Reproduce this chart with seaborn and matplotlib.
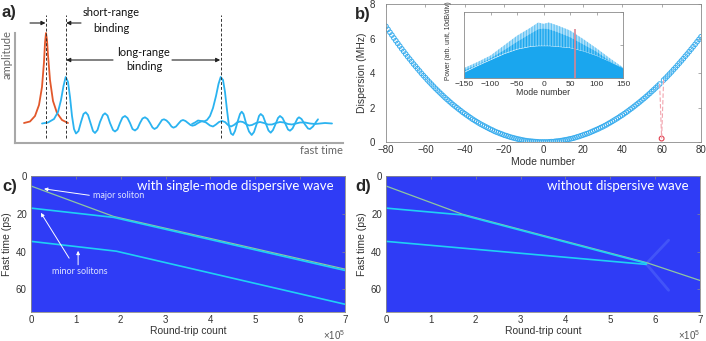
import matplotlib
matplotlib.use("Agg")
import matplotlib.pyplot as plt
import seaborn as sns
import pandas as pd

# ------------------------------------------------------------------ data
# panel a (schematic): x position, amplitude
a_orange_x = [24, 30, 35, 39, 42, 44, 45, 46, 47, 48, 50, 53, 57, 62, 68]
a_orange_y = [20, 21.5, 27, 38, 56, 81, 100, 110, 103, 88, 63, 42, 30, 23, 20]

a_blue1_x = [42, 48, 54, 58, 61, 63.5, 65.7, 68, 70, 72, 74, 76, 78.5, 81, 83.5, 85.7, 88, 90.5,
             93, 95, 97.5, 100, 103, 105, 107.5, 110, 113, 115, 117.5, 120, 122.5, 125, 127.5,
             130, 132.5, 135, 137.5, 140, 142.5, 145, 147.5, 150, 152.5, 154.5, 157, 160, 162,
             164, 166.5, 169, 171.5, 173.5, 176, 179, 181, 183, 185.5, 188, 190.5, 192.5, 195,
             198, 201, 203, 206, 210, 213, 216, 219, 222, 225, 228, 231, 234, 237, 240, 243,
             246, 249, 252, 256, 260, 264, 268, 272, 276, 280, 284, 288, 292, 296, 300, 305,
             310, 315, 320, 325, 332]
a_blue1_y = [19.5, 20.5, 24, 31, 43, 57, 66, 61, 46, 27, 14, 9.5, 12, 21, 29, 30.7, 28, 20,
             12, 10, 13, 21, 28, 29.7, 27.5, 20, 13, 11.5, 13.5, 20, 25.5, 27, 25,
             20, 14, 12.5, 14.5, 20, 24.5, 25.7, 24, 20, 15.5, 14, 15.5, 20, 23,
             23.7, 22.5, 20, 16.5, 15.3, 16.5, 20, 22.2, 23, 22, 20, 18, 17.3, 18,
             20, 21.5, 21.7, 20.5, 17.5, 16.5, 18.5, 21, 22, 21, 18, 16.5, 18, 20.5, 21.5, 21,
             19, 17.5, 18, 20, 21, 20, 18.5, 18.5, 20, 21, 20.5, 19, 18.5, 19.5, 20.5, 20.5,
             19.5, 19, 19.5, 20, 19.5]

a_blue2_x = [192, 195, 198, 201, 204, 207, 210, 213, 216, 218.5, 220.7, 223, 225, 227, 229, 231,
             233, 235, 237.5, 240, 241.7, 243.5, 246, 249, 251.7, 254, 257, 259, 260.7, 263,
             266, 268.5, 270.7, 273, 276, 278, 280, 282.5, 285.5, 288, 290, 292.5, 295.5,
             297.5, 299, 301.5, 305, 308, 310, 313, 316, 318]
a_blue2_y = [19, 20.5, 22.5, 22, 21.5, 23, 27, 35, 47, 59, 66, 63, 51, 33, 17, 9.5,
             8, 12, 21, 29, 31.3, 29, 20, 11.5, 8, 11, 20, 27, 29, 27,
             19, 12.5, 10.3, 13, 20, 25, 27, 25, 19, 13.5, 12.3, 14.5, 20.5,
             24.5, 25.7, 24, 18.5, 14.5, 14, 16.5, 21, 23.7]

# panel b: dispersion per mode (mode 60 shifted)
disp_modes = list(range(-80, 81))
disp_mhz = [6.70, 6.53, 6.36, 6.20, 6.03, 5.87, 5.71, 5.56, 5.40, 5.25, 5.10, 4.95, 4.81, 4.67, 4.52, 4.39, 4.25, 4.12, 3.98, 3.85,
            3.73, 3.60, 3.48, 3.36, 3.24, 3.12, 3.01, 2.90, 2.79, 2.68, 2.57, 2.47, 2.37, 2.27, 2.17, 2.08, 1.99, 1.90, 1.81, 1.72,
            1.64, 1.56, 1.48, 1.40, 1.32, 1.25, 1.18, 1.11, 1.04, 0.98, 0.92, 0.86, 0.80, 0.74, 0.69, 0.63, 0.58, 0.54, 0.49, 0.45,
            0.40, 0.37, 0.33, 0.29, 0.26, 0.23, 0.20, 0.17, 0.15, 0.12, 0.10, 0.08, 0.06, 0.05, 0.04, 0.03, 0.02, 0.01, 0.00, 0.00,
            0.00, 0.00, 0.00, 0.01, 0.02, 0.02, 0.04, 0.05, 0.06, 0.08, 0.10, 0.12, 0.14, 0.17, 0.19, 0.22, 0.25, 0.29, 0.32, 0.36,
            0.40, 0.44, 0.48, 0.52, 0.57, 0.62, 0.67, 0.72, 0.77, 0.83, 0.88, 0.94, 1.00, 1.07, 1.13, 1.20, 1.27, 1.34, 1.41, 1.49,
            1.56, 1.64, 1.72, 1.80, 1.89, 1.97, 2.06, 2.15, 2.24, 2.33, 2.43, 2.52, 2.62, 2.72, 2.82, 2.93, 3.03, 3.14, 3.25, 3.36,
            0.20, 3.59, 3.70, 3.82, 3.94, 4.06, 4.19, 4.31, 4.44, 4.57, 4.70, 4.83, 4.97, 5.10, 5.24, 5.38, 5.52, 5.66, 5.81, 5.95, 6.10]
shifted_mode = 60

# panel b inset: comb envelope (relative power, 10 dB/div)
inset_modes = [-150, -125, -100, -75, -50, -25, -10, 0, 10, 25, 50, 75, 100, 125, 150]
inset_top   = [0.15, 0.24, 0.34, 0.49, 0.64, 0.76, 0.84, 0.82, 0.84, 0.80, 0.72, 0.59, 0.45, 0.30, 0.16]
inset_mid   = [0.12, 0.20, 0.30, 0.42, 0.55, 0.67, 0.74, 0.75, 0.74, 0.70, 0.62, 0.51, 0.40, 0.26, 0.14]
inset_floor = [0.09, 0.19, 0.28, 0.37, 0.44, 0.48, 0.49, 0.49, 0.49, 0.48, 0.46, 0.41, 0.34, 0.25, 0.15]
inset_dw_height = 0.75

# panel c: soliton trajectories (round trips, fast time ps)
c_major_x = [0, 1.84e5, 7e5];  c_major_y = [5.3, 21.4, 49.3]
c_minor1_x = [0, 1.84e5, 7e5]; c_minor1_y = [17.0, 21.9, 50.0]
c_minor2_x = [0, 1.9e5, 7e5];  c_minor2_y = [34.6, 39.8, 67.9]

# panel d
d_major_x = [0, 1.7e5, 5.8e5, 7e5];  d_major_y = [5.3, 20.2, 45.8, 55.3]
d_minor1_x = [0, 1.7e5, 5.8e5];      d_minor1_y = [17.0, 20.6, 46.2]
d_minor2_x = [0, 5.8e5];             d_minor2_y = [34.6, 46.8]
d_rad_up_x = [5.8e5, 6.3e5];         d_rad_up_y = [46.5, 34.0]
d_rad_dn_x = [5.8e5, 6.3e5];         d_rad_dn_y = [46.5, 60.5]

# ------------------------------------------------------------------ style
sns.set_theme(style="white")
plt.rcParams.update({
    "font.family": ["Liberation Sans", "DejaVu Sans"],
    "mathtext.default": "regular",
    "axes.linewidth": 0.6,
    "hatch.linewidth": 0.9,
})
GILL = ["Lato", "DejaVu Sans"]
BLUE = "#2ab3f0"
ORANGE = "#e2582b"
IMG_BG = "#2f3cf6"
CYAN = "#1fd0f5"
MAJOR = "#8fc6a0"
BOX = "#8a8a8a"
TXT = "#333333"

W, H = 706, 341
fig = plt.figure(figsize=(W / 100, H / 100), dpi=100)


def px_axes(x0, y0, x1, y1):
    return fig.add_axes([x0 / W, 1 - y1 / H, (x1 - x0) / W, (y1 - y0) / H])


def matlab_box(ax, fs=6.5, ypad=2):
    for s in ax.spines.values():
        s.set_visible(True)
        s.set_color(BOX)
        s.set_linewidth(0.6)
    ax.tick_params(direction="in", top=True, right=True, length=2.5, width=0.5,
                   color=BOX, labelsize=fs, labelcolor=TXT, pad=2)
    ax.tick_params(axis="y", pad=ypad)


# ------------------------------------------------------------------ panel a
axa = px_axes(15, 0, 345, 143)
axa.set_xlim(15, 345)
axa.set_ylim(0, 143)
axa.patch.set_alpha(0)
for s in ["top", "right"]:
    axa.spines[s].set_visible(False)
for s in ["left", "bottom"]:
    axa.spines[s].set_color("#a8a8a8")
    axa.spines[s].set_linewidth(1.5)
axa.spines["left"].set_bounds(0, 110)
axa.spines["bottom"].set_bounds(15, 343)
axa.set_xticks([])
axa.set_yticks([])

sns.lineplot(x=a_orange_x, y=a_orange_y, ax=axa, color=ORANGE, lw=1.3, estimator=None, sort=False)
sns.lineplot(x=a_blue1_x, y=a_blue1_y, ax=axa, color=BLUE, lw=1.3, estimator=None, sort=False)
sns.lineplot(x=a_blue2_x, y=a_blue2_y, ax=axa, color=BLUE, lw=1.3, estimator=None, sort=False)

p0 = a_orange_x[a_orange_y.index(max(a_orange_y))]
p1 = a_blue1_x[a_blue1_y.index(max(a_blue1_y))]
p2 = a_blue2_x[a_blue2_y.index(max(a_blue2_y))]
axa.vlines([p0, p1, p2], 5, 128, colors="#333333", linestyles=(0, (3, 2)), lw=0.7)

arr = dict(arrowstyle="-|>", color="#222222", lw=0.8, mutation_scale=6, shrinkA=0, shrinkB=0)
axa.annotate("", xy=(p0 - 0.5, 120), xytext=(30, 120), arrowprops=arr)
axa.annotate("", xy=(p1 + 0.5, 120), xytext=(81, 120), arrowprops=arr)
axa.annotate("", xy=(p1 + 0.5, 83), xytext=(113, 83), arrowprops=arr)
axa.annotate("", xy=(p2 - 0.5, 83), xytext=(172, 83), arrowprops=arr)
axa.text(111, 130, "short-range", ha="center", va="center", fontsize=8, family=GILL, color="#111")
axa.text(111, 115, "binding", ha="center", va="center", fontsize=8, family=GILL, color="#111")
axa.text(144, 91, "long-range", ha="center", va="center", fontsize=8, family=GILL, color="#111")
axa.text(144, 76, "binding", ha="center", va="center", fontsize=8, family=GILL, color="#111")
axa.text(343, -7, "fast time", ha="right", va="center", fontsize=8, family=GILL, color="#666")
axa.text(7, 88, "amplitude", ha="center", va="center", rotation=90, fontsize=8, family=GILL,
         color="#666")

fig.text(2 / W, 1 - 12 / H, "a)", fontsize=12, fontweight="bold", va="center", ha="left")
fig.text(355 / W, 1 - 14 / H, "b)", fontsize=12, fontweight="bold", va="center", ha="left")
fig.text(2 / W, 1 - 187 / H, "c)", fontsize=12, fontweight="bold", va="center", ha="left")
fig.text(355 / W, 1 - 187 / H, "d)", fontsize=12, fontweight="bold", va="center", ha="left")

# ------------------------------------------------------------------ panel b
axb = px_axes(386, 4, 701, 142)
dfb = pd.DataFrame({"mode": disp_modes, "disp": disp_mhz})
norm = dfb[dfb["mode"] != shifted_mode]
shift = dfb[dfb["mode"] == shifted_mode]
sns.scatterplot(data=norm, x="mode", y="disp", ax=axb, marker="o", s=11,
                facecolors="none", edgecolor="#39adee", linewidth=0.7, legend=False)
sv = float(shift["disp"].iloc[0])
for m in (shifted_mode - 1, shifted_mode + 1):
    v = float(dfb.loc[dfb["mode"] == m, "disp"].iloc[0])
    axb.plot([m, shifted_mode], [v, sv], ls=(0, (4, 2)), color="#f2a4ae", lw=0.8)
sns.scatterplot(data=shift, x="mode", y="disp", ax=axb, marker="o", s=12,
                facecolors="none", edgecolor="#e0404f", linewidth=0.8, legend=False)
axb.set_xlim(-80, 80)
axb.set_ylim(0, 8)
axb.set_xticks(range(-80, 81, 20))
axb.set_yticks(range(0, 9, 2))
axb.set_xlabel("Mode number", fontsize=7.5, color=TXT, labelpad=1.5)
axb.set_ylabel("Dispersion (MHz)", fontsize=7.5, color=TXT, labelpad=2)
matlab_box(axb, 7, ypad=8)

# inset
axi = px_axes(464, 12, 623, 78)
axi.set_facecolor("white")
axi.fill_between(inset_modes, inset_mid, inset_top, facecolor="#b5e2fa", edgecolor="#66c4f4",
                 hatch="||||||", linewidth=0)
axi.fill_between(inset_modes, inset_floor, inset_mid, facecolor="#6cc7f5", edgecolor="#1aa6ee",
                 hatch="||||||", linewidth=0)
axi.fill_between(inset_modes, 0, inset_floor, facecolor="#1aa6ee", linewidth=0)
axi.vlines([shifted_mode], 0, inset_dw_height, colors="#d98491", lw=1.3, alpha=0.9)
axi.set_xlim(-150, 150)
axi.set_ylim(0, 1)
axi.set_xticks(range(-150, 151, 50))
axi.set_yticks([0, 0.5, 1])
axi.set_yticklabels([])
axi.set_xlabel("Mode number", fontsize=6.3, color=TXT, labelpad=0)
axi.set_ylabel("Power (arb. unit, 10dB/div)", fontsize=4.8, color=TXT, labelpad=4)
axi.yaxis.set_label_coords(-0.075, 0.56)
matlab_box(axi, 6)

# ------------------------------------------------------------------ panels c, d
def evo_axes(ax, title):
    ax.set_facecolor(IMG_BG)
    ax.set_xlim(0, 7e5)
    ax.set_ylim(72, 0)
    ax.set_xticks([i * 1e5 for i in range(8)])
    ax.set_xticklabels([str(i) for i in range(8)])
    ax.set_yticks([0, 20, 40, 60])
    ax.set_xlabel("Round-trip count", fontsize=7.5, color=TXT, labelpad=1)
    ax.set_ylabel("Fast time (ps)", fontsize=7.5, color=TXT, labelpad=3)
    matlab_box(ax, 7, ypad=3)
    ax.text(0.965, 0.925, title, transform=ax.transAxes, ha="right", va="center",
            fontsize=9.5, family=GILL, color="white")
    ax.text(1.0, -0.17, "×10$^5$", transform=ax.transAxes, ha="right", va="center",
            fontsize=7, color="#555")


axc = px_axes(31, 176, 345, 312)
sns.lineplot(x=c_major_x, y=c_major_y, ax=axc, color=MAJOR, lw=0.9, estimator=None, sort=False)
sns.lineplot(x=c_minor1_x, y=c_minor1_y, ax=axc, color=CYAN, lw=1.2, estimator=None, sort=False)
sns.lineplot(x=c_minor2_x, y=c_minor2_y, ax=axc, color=CYAN, lw=1.2, estimator=None, sort=False)
evo_axes(axc, "with single-mode dispersive wave")
note = "#dfe4ff"
awh = dict(arrowstyle="-|>", color="white", lw=0.7, mutation_scale=5, shrinkA=0, shrinkB=0)
axc.annotate("", xy=(0.29e5, 6.8), xytext=(1.3e5, 10.2), arrowprops=awh)
axc.text(1.38e5, 10.5, "major soliton", fontsize=6.5, family=GILL, color=note, va="center")
axc.annotate("", xy=(0.22e5, 19.5), xytext=(0.85e5, 43.5), arrowprops=awh)
axc.annotate("", xy=(1.05e5, 39.6), xytext=(1.05e5, 47.0), arrowprops=awh)
axc.text(0.47e5, 50.5, "minor solitons", fontsize=6.5, family=GILL, color=note, va="center")

axd = px_axes(386, 176, 700, 312)
sns.lineplot(x=d_rad_up_x, y=d_rad_up_y, ax=axd, color="#6f8cff", lw=2.0, alpha=0.3, estimator=None, sort=False)
sns.lineplot(x=d_rad_dn_x, y=d_rad_dn_y, ax=axd, color="#6f8cff", lw=2.0, alpha=0.3, estimator=None, sort=False)
sns.lineplot(x=d_major_x, y=d_major_y, ax=axd, color=MAJOR, lw=0.9, estimator=None, sort=False)
sns.lineplot(x=d_minor1_x, y=d_minor1_y, ax=axd, color=CYAN, lw=1.2, estimator=None, sort=False)
sns.lineplot(x=d_minor2_x, y=d_minor2_y, ax=axd, color=CYAN, lw=1.2, estimator=None, sort=False)
evo_axes(axd, "without dispersive wave")

fig.savefig("out.png", dpi=100)
